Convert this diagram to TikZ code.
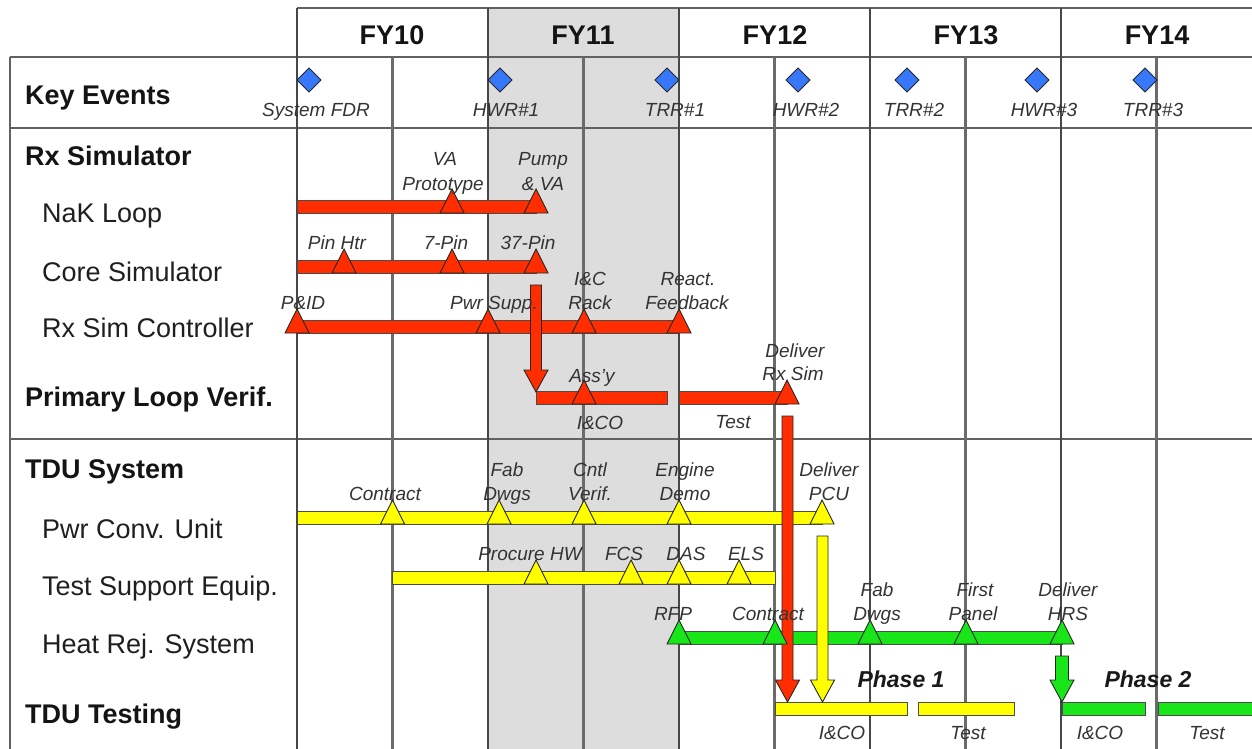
\documentclass[tikz,border=0pt]{standalone}
\usepackage{fontspec}
\setmainfont{Liberation Sans}
\definecolor{rbar}{RGB}{255,45,0}
\definecolor{ybar}{RGB}{255,255,0}
\definecolor{gbar}{RGB}{25,230,25}
\definecolor{dia}{RGB}{55,120,250}
\definecolor{shadecol}{RGB}{221,221,221}
\newcommand{\mstone}[3]{\filldraw[ms,fill=#3] (#1-12,#2) -- (#1,#2-24) -- (#1+12,#2) -- cycle;}
\newcommand{\ganttbar}[4]{\filldraw[barst,fill=#4] (#1,#3-12.5) rectangle (#2,#3);}
\newcommand{\downarr}[6]{\filldraw[ms,fill=#6] (#1-#4,#2) -- (#1+#4,#2) -- (#1+#4,#3-22) -- (#1+#5,#3-22) -- (#1,#3) -- (#1-#5,#3-22) -- (#1-#4,#3-22) -- cycle;}
\newcommand{\lbl}[4]{\node[lb] (#1) at (#2,#3) {#4};}
\begin{document}
\begin{tikzpicture}[x=1pt,y=-1pt,
 major/.style={line width=2.5pt, draw=black!72},
 minor/.style={line width=2.5pt, draw=black!58},
 hline/.style={line width=2.5pt, draw=black!62},
 ms/.style={draw=black!85, line width=0.9pt, line join=miter},
 barst/.style={draw=black!70, line width=0.9pt},
 lb/.style={font=\fontsize{19}{22}\selectfont\itshape, anchor=base, inner sep=0pt, text=black!80},
 head/.style={font=\fontsize{27}{30}\selectfont\bfseries, anchor=base, inner sep=0pt, text=black!92},
 rowb/.style={font=\fontsize{27}{30}\selectfont\bfseries, anchor=base west, inner sep=0pt, text=black!92},
 rowr/.style={font=\fontsize{27}{30}\selectfont, anchor=base west, inner sep=0pt, text=black!88},
 phase/.style={font=\fontsize{23}{26}\selectfont\bfseries\itshape, anchor=base, inner sep=0pt, text=black!90}]
\clip (0,0) rectangle (1252,749);
\fill[shadecol] (488,8) rectangle (679,749);
% grid
\draw[hline] (297,8) -- (1252,8);
\draw[hline] (10,57) -- (1252,57);
\draw[hline] (10,128) -- (1252,128);
\draw[hline] (10,439) -- (1252,439);
\draw[hline] (10,57) -- (10,749);
\foreach \x in {392.5,583.5,774.5,965.5,1156.5} \draw[minor] (\x,57) -- (\x,749);
\foreach \x in {297,488,679,870,1061} \draw[major] (\x,8) -- (\x,749);
% headers
\node[head] (fy10) at (392,45) {FY10};
\node[head] (fy11) at (583,45) {FY11};
\node[head] (fy12) at (775,45) {FY12};
\node[head] (fy13) at (966,45) {FY13};
\node[head] (fy14) at (1157,45) {FY14};
% row labels
\node[rowb] (rKE) at (25,105) {Key Events};
\node[rowb] (rRS) at (25,165) {Rx Simulator};
\node[rowr] (rNaK) at (42,222) {NaK Loop};
\node[rowr] (rCS) at (42,281) {Core Simulator};
\node[rowr] (rRC) at (42,337) {Rx Sim Controller};
\node[rowb] (rPL) at (25,406) {Primary Loop Verif.};
\node[rowb] (rTS) at (25,478) {TDU System};
\node[rowr] (rPC) at (42,538) {Pwr Conv. Unit};
\node[rowr] (rTE) at (42,595) {Test Support Equip.};
\node[rowr] (rHR) at (42,653) {Heat Rej. System};
\node[rowb] (rTT) at (25,723) {TDU Testing};
% key events
\foreach \x in {309,500,667,798,907,1037,1145}
  \filldraw[ms,fill=dia] (\x-12,80) -- (\x,68) -- (\x+12,80) -- (\x,92) -- cycle;
\lbl{kFDR}{316}{117}{System FDR}
\lbl{kH1}{506}{117}{HWR\#1}
\lbl{kT1}{675}{117}{TRR\#1}
\lbl{kH2}{806}{117}{HWR\#2}
\lbl{kT2}{914}{117}{TRR\#2}
\lbl{kH3}{1044}{117}{HWR\#3}
\lbl{kT3}{1153}{117}{TRR\#3}
% bars
\ganttbar{297}{536}{213}{rbar}
\ganttbar{297}{536}{273}{rbar}
\ganttbar{297}{679}{333}{rbar}
\ganttbar{536}{667}{404}{rbar}
\ganttbar{679}{787}{404}{rbar}
\ganttbar{297}{822}{524}{ybar}
\ganttbar{392.5}{775}{584}{ybar}
\ganttbar{679}{1062}{644}{gbar}
\ganttbar{775}{907}{715}{ybar}
\ganttbar{918}{1014}{715}{ybar}
\ganttbar{1062}{1145}{715}{gbar}
\ganttbar{1158}{1262}{715}{gbar}
% arrows
\downarr{536}{285}{392}{5.5}{12}{rbar}
\downarr{787.5}{416}{702}{5.5}{12}{rbar}
\downarr{822.5}{536}{702}{5.5}{12}{ybar}
\downarr{1062}{656}{702}{6.5}{12}{gbar}
% milestones
\mstone{452}{213}{rbar}
\mstone{536}{213}{rbar}
\mstone{344}{273}{rbar}
\mstone{452}{273}{rbar}
\mstone{536}{273}{rbar}
\mstone{297}{333}{rbar}
\mstone{488}{333}{rbar}
\mstone{584}{333}{rbar}
\mstone{679}{333}{rbar}
\mstone{584}{404}{rbar}
\mstone{787}{404}{rbar}
\mstone{392.5}{524}{ybar}
\mstone{499}{524}{ybar}
\mstone{584}{524}{ybar}
\mstone{679}{524}{ybar}
\mstone{822}{524}{ybar}
\mstone{536}{584}{ybar}
\mstone{631}{584}{ybar}
\mstone{679}{584}{ybar}
\mstone{739}{584}{ybar}
\mstone{679}{644}{gbar}
\mstone{775}{644}{gbar}
\mstone{870}{644}{gbar}
\mstone{966}{644}{gbar}
\mstone{1062}{644}{gbar}
% milestone labels
\lbl{a1}{445}{165}{VA}
\lbl{a2}{443}{190}{Prototype}
\lbl{a3}{543}{165}{Pump}
\lbl{a4}{543}{190}{\& VA}
\lbl{b1}{337}{249}{Pin Htr}
\lbl{b2}{446}{249}{7-Pin}
\lbl{b3}{528}{249}{37-Pin}
\lbl{c1}{303}{309}{P\&ID}
\lbl{c2}{494}{309}{Pwr Supp.}
\lbl{c3}{590}{285}{I\&C}
\lbl{c4}{590}{309}{Rack}
\lbl{c5}{688}{285}{React.}
\lbl{c6}{687}{309}{Feedback}
\lbl{d1}{592}{382}{Ass'y}
\lbl{d2}{795}{357}{Deliver}
\lbl{d3}{793}{380}{Rx Sim}
\lbl{d4}{600}{429}{I\&CO}
\lbl{d5}{733}{428}{Test}
\lbl{e1}{385}{500}{Contract}
\lbl{e2}{507}{476}{Fab}
\lbl{e3}{507}{500}{Dwgs}
\lbl{e4}{590}{476}{Cntl}
\lbl{e5}{590}{500}{Verif.}
\lbl{e6}{685}{476}{Engine}
\lbl{e7}{685}{500}{Demo}
\lbl{e8}{829}{476}{Deliver}
\lbl{e9}{829}{500}{PCU}
\lbl{f1}{530}{560}{Procure HW}
\lbl{f2}{624}{560}{FCS}
\lbl{f3}{686}{560}{DAS}
\lbl{f4}{746}{560}{ELS}
\lbl{g1}{673}{620}{RFP}
\lbl{g2}{768}{620}{Contract}
\lbl{g3}{877}{596}{Fab}
\lbl{g4}{877}{620}{Dwgs}
\lbl{g5}{975}{596}{First}
\lbl{g6}{973}{620}{Panel}
\lbl{g7}{1068}{596}{Deliver}
\lbl{g8}{1068}{620}{HRS}
\lbl{h1}{842}{739}{I\&CO}
\lbl{h2}{968}{739}{Test}
\lbl{h3}{1100}{739}{I\&CO}
\lbl{h4}{1207}{739}{Test}
\node[phase] (ph1) at (901,687) {Phase 1};
\node[phase] (ph2) at (1148,687) {Phase 2};
\end{tikzpicture}
\end{document}
